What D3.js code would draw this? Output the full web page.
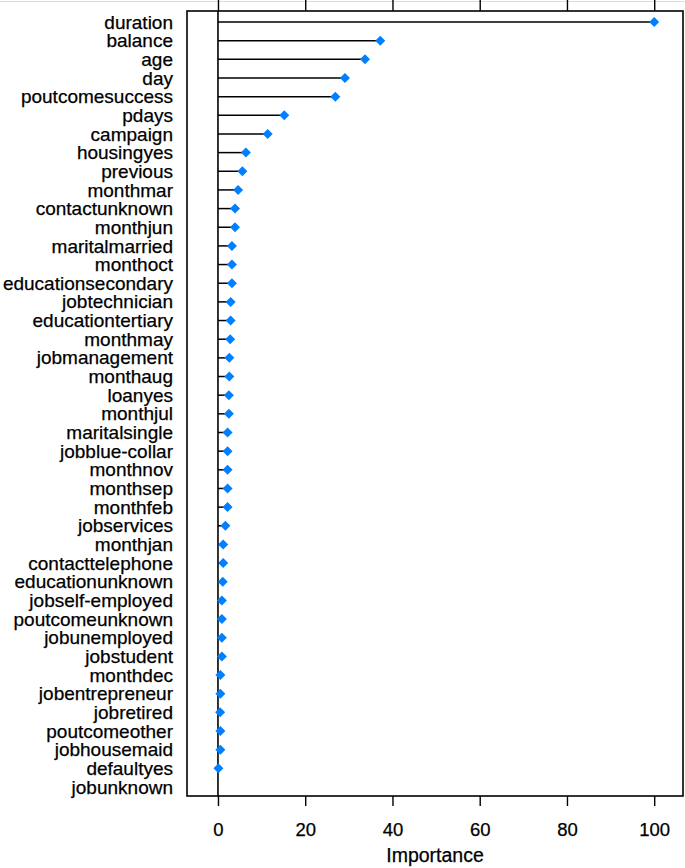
<!DOCTYPE html>
<html lang="en">

<head>
    <meta charset="utf-8">
    <title>Variable importance</title>
    <script type="text/javascript" src="https://cdn.jsdelivr.net/npm/d3@7"></script>
    <style type="text/css">
    body {
        margin: 0;
        background: white;
    }

    text {
        font-family: "Liberation Sans", Arial, sans-serif;
        fill: #000;
        stroke: #000;
        stroke-width: 0.25px;
    }
    </style>
</head>

<body>
    <script type="text/javascript">
    //Width and height
    var w = 685;
    var h = 868;

    //variable names, top to bottom
    var variables = ['duration', 'balance', 'age', 'day', 'poutcomesuccess', 'pdays', 'campaign',
        'housingyes', 'previous', 'monthmar', 'contactunknown', 'monthjun', 'maritalmarried',
        'monthoct', 'educationsecondary', 'jobtechnician', 'educationtertiary', 'monthmay',
        'jobmanagement', 'monthaug', 'loanyes', 'monthjul', 'maritalsingle', 'jobblue-collar',
        'monthnov', 'monthsep', 'monthfeb', 'jobservices', 'monthjan', 'contacttelephone',
        'educationunknown', 'jobself-employed', 'poutcomeunknown', 'jobunemployed', 'jobstudent',
        'monthdec', 'jobentrepreneur', 'jobretired', 'poutcomeother', 'jobhousemaid',
        'defaultyes', 'jobunknown'];

    //importance values (jobunknown has no point)
    var importance = [100, 37.2, 33.7, 29.1, 26.9, 15.2, 11.4,
        6.4, 5.6, 4.6, 3.9, 3.9, 3.2,
        3.2, 3.2, 2.9, 2.9, 2.8,
        2.6, 2.6, 2.5, 2.5, 2.2, 2.2,
        2.2, 2.2, 2.2, 1.7, 1.2, 1.2,
        1.1, 0.9, 0.9, 0.9, 0.9,
        0.55, 0.55, 0.5, 0.55, 0.55,
        0.1, null];

    //x axis ticks
    var tickValues = [0, 20, 40, 60, 80, 100];

    //panel box
    var box = { left: 187, right: 683, top: 11, bottom: 796 };

    var x = d3.scaleLinear()
        .domain([-7.1, 106.6])
        .range([box.left, box.right]);

    var y = d3.scalePoint()
        .domain(variables)
        .range([22, 787]);

    //create SVG
    var svg = d3.select('body')
        .append('svg')
        .attr('width', w)
        .attr('height', h);

    //faint line along the top edge
    svg.append('line')
        .attr('x1', 0)
        .attr('x2', w)
        .attr('y1', 1.5)
        .attr('y2', 1.5)
        .attr('stroke', '#dcdcdc')
        .attr('stroke-width', 1);

    //bottom axis
    var bottomAxis = d3.axisBottom(x)
        .tickValues(tickValues)
        .tickSize(10)
        .tickPadding(17);

    var gBottom = svg.append('g')
        .attr('transform', 'translate(0,' + box.bottom + ')')
        .call(bottomAxis);

    gBottom.select('.domain').remove();
    gBottom.selectAll('line').attr('stroke', '#000').attr('stroke-width', 1.4);
    gBottom.selectAll('text')
        .style('font-family', '"Liberation Sans", Arial, sans-serif')
        .style('font-size', '18.5px')
        .attr('fill', '#000');

    //top axis (ticks only, labels cut off)
    var topAxis = d3.axisTop(x)
        .tickValues(tickValues)
        .tickSize(12)
        .tickFormat('');

    var gTop = svg.append('g')
        .attr('transform', 'translate(0,' + box.top + ')')
        .call(topAxis);

    gTop.select('.domain').remove();
    gTop.selectAll('line').attr('stroke', '#000').attr('stroke-width', 1.4);

    //reference line at zero
    svg.append('line')
        .attr('x1', x(0))
        .attr('x2', x(0))
        .attr('y1', box.top)
        .attr('y2', box.bottom)
        .attr('stroke', '#000')
        .attr('stroke-width', 1.6);

    var rows = variables.map(function(v, i) {
        return { name: v, value: importance[i] };
    });

    var withValue = rows.filter(function(d) { return d.value !== null; });

    //lollipop sticks
    svg.selectAll('line.stick')
        .data(withValue)
        .enter()
        .append('line')
        .attr('class', 'stick')
        .attr('x1', x(0))
        .attr('x2', function(d) { return x(d.value); })
        .attr('y1', function(d) { return y(d.name); })
        .attr('y2', function(d) { return y(d.name); })
        .attr('stroke', '#000')
        .attr('stroke-width', 1.5);

    //diamonds
    var diamond = d3.symbol().type(d3.symbolSquare).size(50);

    svg.selectAll('path.point')
        .data(withValue)
        .enter()
        .append('path')
        .attr('class', 'point')
        .attr('d', diamond)
        .attr('transform', function(d) {
            return 'translate(' + x(d.value) + ',' + y(d.name) + ') rotate(45)';
        })
        .attr('fill', '#0080ff');

    //variable labels
    svg.selectAll('text.label')
        .data(variables)
        .enter()
        .append('text')
        .attr('class', 'label')
        .attr('x', 173)
        .attr('y', function(d) { return y(d) + 6.6; })
        .attr('text-anchor', 'end')
        .style('font-size', '19px')
        .text(function(d) { return d; });

    //panel border
    svg.append('rect')
        .attr('x', box.left)
        .attr('y', box.top)
        .attr('width', box.right - box.left)
        .attr('height', box.bottom - box.top)
        .attr('fill', 'none')
        .attr('stroke', '#000')
        .attr('stroke-width', 1.6);

    //axis title
    svg.append('text')
        .attr('x', (box.left + box.right) / 2)
        .attr('y', 862)
        .attr('text-anchor', 'middle')
        .style('font-size', '19.5px')
        .text('Importance');
    </script>
</body>

</html>
